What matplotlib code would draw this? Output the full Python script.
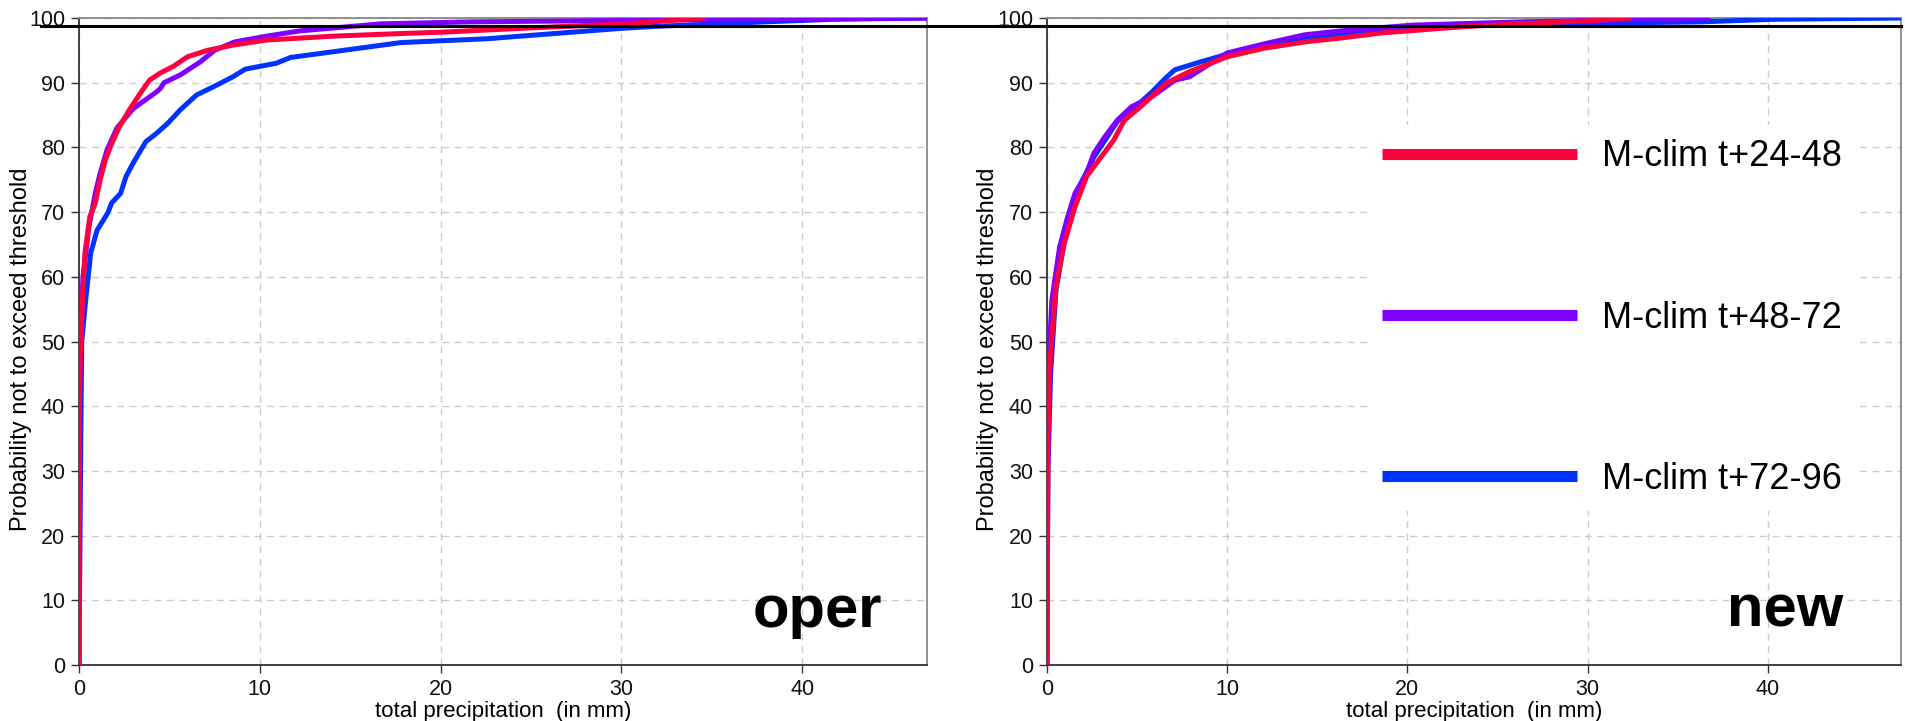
import matplotlib
matplotlib.use("Agg")
import matplotlib.pyplot as plt
from matplotlib.lines import Line2D

plt.rcParams['font.family'] = ['Liberation Sans', 'DejaVu Sans']

# -------------------------------
# Daten
# -------------------------------
labels = ["M-clim t+24-48", "M-clim t+48-72", "M-clim t+72-96"]
colors = ["#ff0040", "#8000ff", "#0033ff"]

# oper
oper_red_x = [0, 0.02, 0.06, 0.2, 0.33, 0.6, 0.9, 1.17, 1.45, 1.72, 2.2, 2.83, 3.4, 3.9, 4.5, 5.2,
              6.0, 7.1, 8.5, 10.4, 14.1, 17.8, 20.0, 25.2, 30.3, 34.5]
oper_red_y = [0, 40, 47, 57, 63.7, 69.3, 71.4, 75, 78, 80, 83, 86, 88.4, 90.4, 91.5, 92.5,
              94, 95, 95.8, 96.6, 97.2, 97.6, 97.8, 98.5, 99.1, 100]
oper_purple_x = [0, 0.02, 0.08, 0.22, 0.55, 0.9, 1.17, 1.55, 2.1, 3.0, 4.3, 4.5, 4.7, 5.6, 6.7,
                 7.5, 8.6, 10.4, 12.2, 15.9, 16.7, 21.6, 33.2, 46.9]
oper_purple_y = [0, 42, 50, 60, 67.7, 72.9, 76, 79.6, 83, 86, 88.6, 89.1, 90, 91.2, 93.2,
                 95, 96.3, 97.2, 98, 98.9, 99.1, 99.4, 99.7, 100]
oper_blue_x = [0, 0.1, 0.15, 0.37, 0.65, 1.0, 1.6, 1.8, 2.3, 2.6, 3.0, 3.7, 4.3, 4.9, 5.6, 6.5,
               7.6, 8.5, 9.2, 10.9, 11.7, 14.1, 17.8, 22.6, 30.0, 31.8, 37.9, 41.7, 46.9]
oper_blue_y = [0, 35, 50, 56.4, 63.7, 67.2, 69.9, 71.4, 72.9, 75.5, 77.6, 80.9, 82.2, 83.7, 85.8, 88.1,
               89.6, 90.9, 92.1, 93.0, 93.9, 94.8, 96.2, 96.8, 98.4, 98.7, 99.4, 99.8, 100]

# new
new_red_x = [0, 0.05, 0.17, 0.48, 0.9, 1.55, 2.2, 3.0, 3.7, 4.3, 5.2, 6.6, 7.9, 10.0, 12.0,
             14.3, 16.3, 18.6, 23.3, 27.0, 30.3, 32.3]
new_red_y = [0, 35, 47, 58, 64.6, 70.8, 75.5, 78.5, 81.1, 84.2, 86.3, 89.9, 91.7, 94.0, 95.3,
             96.3, 96.9, 97.7, 98.7, 99.2, 99.6, 100]
new_purple_x = [0, 0.05, 0.12, 0.27, 0.7, 1.1, 1.55, 2.2, 2.6, 3.2, 3.9, 4.7, 5.8, 7.1, 7.9,
                10.0, 12.2, 14.3, 16.3, 20.3, 26.3, 36.7]
new_purple_y = [0, 38, 48, 56.4, 64.6, 68.8, 72.9, 76, 79.1, 81.6, 84.2, 86.3, 87.8, 90.4, 90.9,
                94.6, 96.1, 97.4, 98.0, 98.9, 99.4, 100]
new_blue_x = [0, 0.05, 0.2, 0.5, 1.0, 1.55, 2.6, 3.9, 5.0, 5.8, 6.5, 7.1, 8.5, 10.0, 12.2,
              14.3, 16.3, 20.0, 24.3, 30.3, 36.3, 40.3, 47.4]
new_blue_y = [0, 30, 45, 58, 66, 72.5, 78.5, 84, 86.5, 88.5, 90.5, 92, 93.2, 94.4, 95.8,
              96.8, 97.6, 98.4, 98.9, 99.2, 99.4, 99.8, 100]

threshold = 98.7
xmax_oper = 46.9
xmax_new = 47.4

# -------------------------------
# Plot
# -------------------------------
fig = plt.figure(figsize=(19.05, 7.21), dpi=100)
ax1 = fig.add_axes([79 / 1905, 56 / 721, 848 / 1905, 647 / 721])
ax2 = fig.add_axes([1047 / 1905, 56 / 721, 854 / 1905, 647 / 721])

panels = [
    (ax1, [oper_red_x, oper_purple_x, oper_blue_x], [oper_red_y, oper_purple_y, oper_blue_y], xmax_oper, "oper", 0.947),
    (ax2, [new_red_x, new_purple_x, new_blue_x], [new_red_y, new_purple_y, new_blue_y], xmax_new, "new", 0.932),
]

for ax, xs, ys, xmax, name, tx in panels:
    # blau unten, rot oben
    for i in [2, 1, 0]:
        ax.plot(xs[i], ys[i], color=colors[i], lw=3.6, solid_joinstyle='round', zorder=3 + (2 - i))
    ax.set_xlim(0, xmax)
    ax.set_ylim(0, 100)
    ax.set_xticks(range(0, 41, 10))
    ax.set_yticks(range(0, 101, 10))
    ax.grid(True, linestyle=(0, (5, 4)), color='#cccccc', linewidth=1)
    ax.set_axisbelow(True)
    ax.tick_params(direction='out', length=6, width=1, labelsize=15.5, pad=4,
                   color='#333333', labelcolor='#111111')
    for s in ['left', 'bottom']:
        ax.spines[s].set_color('#333333')
        ax.spines[s].set_linewidth(1.3)
    for s in ['top', 'right']:
        ax.spines[s].set_color('#888888')
        ax.spines[s].set_linewidth(1.3)
    ax.set_xlabel("total precipitation  (in mm)", fontsize=16, labelpad=1)
    ax.set_ylabel("Probability not to exceed threshold", fontsize=17)
    ax.yaxis.set_label_coords(-0.056, 0.488)
    ax.text(tx, 0.059, name, transform=ax.transAxes, ha='right', va='baseline',
            fontsize=43, fontweight='bold', zorder=6)

ax1.axhline(threshold, xmin=-0.045, xmax=1.15, color='black', lw=2.2, clip_on=False, zorder=6)
ax2.axhline(threshold, xmin=-0.02, xmax=1.0, color='black', lw=2.2, clip_on=False, zorder=6)

handles = [Line2D([0], [0], color=c, lw=8, solid_capstyle='butt') for c in colors]
leg = ax2.legend(handles, labels, loc='upper left', bbox_to_anchor=(0.375, 0.835),
                 borderaxespad=0, fontsize=26, handlelength=5.4, handletextpad=0.69,
                 labelspacing=3.5, borderpad=0.4, frameon=True, fancybox=False,
                 framealpha=1, facecolor='white', edgecolor='none')
leg.set_zorder(5)

fig.savefig("out.png", dpi=100)
